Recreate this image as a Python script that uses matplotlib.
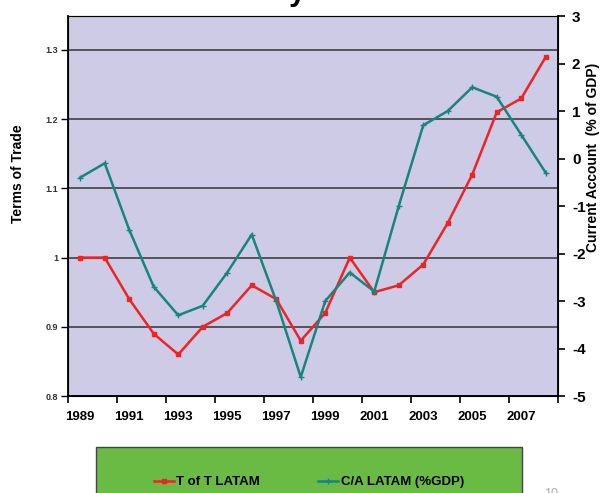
import numpy as np
import matplotlib.pyplot as plt
from matplotlib.patches import Rectangle

plt.rcParams['font.family'] = ['Liberation Sans', 'DejaVu Sans']

years = list(range(1989, 2009))
tot_latam = [1.00, 1.00, 0.94, 0.89, 0.86, 0.90, 0.92, 0.96, 0.94, 0.88,
             0.92, 1.00, 0.95, 0.96, 0.99, 1.05, 1.12, 1.21, 1.23, 1.29]
ca_latam = [-0.4, -0.1, -1.5, -2.7, -3.3, -3.1, -2.4, -1.6, -3.0, -4.6,
            -3.0, -2.4, -2.8, -1.0, 0.7, 1.0, 1.5, 1.3, 0.5, -0.3]
left_ticks = [0.8, 0.9, 1.0, 1.1, 1.2, 1.3]
left_labels = ["0.8", "0.9", "1", "1.1", "1.2", "1.3"]
right_ticks = [-5, -4, -3, -2, -1, 0, 1, 2, 3]
year_labels = [str(y) for y in years[::2]]

RED = "#ee2424"
TEAL = "#17857e"
BG = "#cecbe6"

fig = plt.figure(figsize=(6, 4.93), dpi=100)
ax = fig.add_axes([0.1133, 0.1967, 0.8167, 0.7708])
ax.set_facecolor(BG)
x = np.arange(len(years))

ax.plot(x, tot_latam, color=RED, lw=1.8, marker='s', ms=2.2, zorder=3)
ax.set_xlim(-0.5, len(years) - 0.5)
ax.set_ylim(0.8, 1.349)
ax.set_yticks(left_ticks)
ax.set_yticklabels(left_labels, fontsize=6.5, fontweight='bold', color='#333333')
ax.yaxis.grid(True, color='#333333', lw=1.1)
ax.set_axisbelow(True)

# tick marks between category pairs, labels on the odd years
ax.set_xticks(np.arange(-0.5, len(years), 2))
ax.set_xticklabels([])
ax.set_xticks(x[::2], minor=True)
ax.set_xticklabels(year_labels, minor=True, fontsize=9.5, fontweight='bold')
ax.tick_params(axis='x', which='minor', length=0, pad=11)
ax.tick_params(axis='x', which='major', length=5, width=1.2, direction='out')
ax.tick_params(axis='y', length=5, width=1, direction='out', pad=2)

for s in ['left', 'bottom']:
    ax.spines[s].set_linewidth(1.3)
ax.spines['top'].set_color('#555555')

ax2 = ax.twinx()
ax2.plot(x, ca_latam, color=TEAL, lw=1.8, marker='+', ms=4, mew=1, zorder=3)
ax2.set_ylim(-5, 3)
ax2.set_yticks(right_ticks)
ax2.set_yticklabels([str(t) for t in right_ticks], fontsize=11, fontweight='bold')
ax2.tick_params(axis='y', length=5, width=1.2, direction='out', pad=5)
ax2.spines['right'].set_linewidth(1.3)

fig.text(18 / 600, 1 - 174 / 493, "Terms of Trade", fontsize=10, fontweight='bold',
         rotation=90, ha='center', va='center')
fig.text(593 / 600, 1 - 157 / 493, "Current Account  (% of GDP)", fontsize=10,
         fontweight='bold', rotation=90, ha='center', va='center')

# legend panel
fig.patches.append(Rectangle((96 / 600, -0.01), 426 / 600, 1 - 447 / 493 + 0.01,
                             transform=fig.transFigure, facecolor="#6abb44",
                             edgecolor="#444444", lw=1))
h1, = ax.plot([], [], color=RED, lw=1.8, marker='s', ms=2.2)
h2, = ax.plot([], [], color=TEAL, lw=1.8, marker='+', ms=4)
fig.legend([h1, h2], ["T of T LATAM", "C/A LATAM (%GDP)"], loc='center',
           bbox_to_anchor=(309 / 600, 1 - 482 / 493), ncol=2, frameon=False,
           handlelength=1.5, handletextpad=0.2, columnspacing=4.4,
           prop={'size': 9.5, 'weight': 'bold'})

fig.text(297 / 600, 1.0, "y", fontsize=22, fontweight='bold', ha='center', va='baseline')
fig.text(551 / 600, 1 - 488 / 493, "10", fontsize=9, color='#aaaaaa', ha='center', va='top')

fig.savefig("out.png", dpi=100)
